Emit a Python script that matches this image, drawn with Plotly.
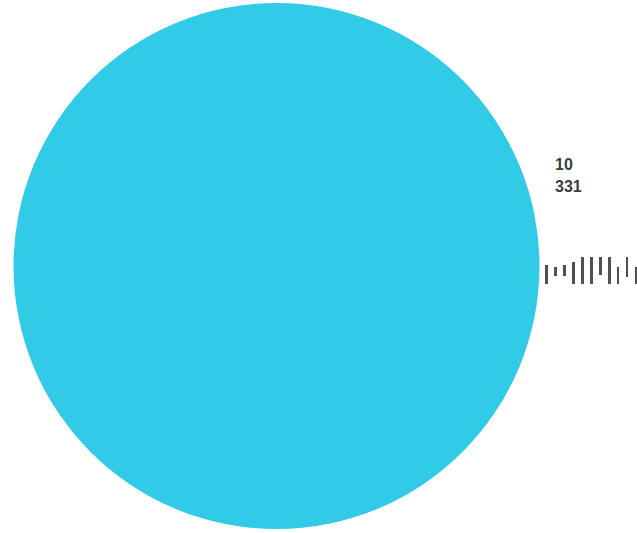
import plotly.graph_objects as go

# ---- data ----
slice_labels = ["disc"]
slice_values = [1]

tick_index = [0, 1, 2, 3, 4, 5, 6, 7, 8, 9, 10]
tick_bottom = [0, 8, 8, 0, 0, 0, 9, 0, 0, 7, 0]
tick_top = [19, 17, 19, 22, 27, 27, 27, 27, 17, 27, 17]
tick_length = [t - b for t, b in zip(tick_top, tick_bottom)]

label_lines = ["10", "331"]

W, H = 637, 533

fig = go.Figure()

fig.add_trace(go.Pie(
    labels=slice_labels,
    values=slice_values,
    marker=dict(colors=["#31CBE7"], line=dict(width=0)),
    textinfo="none",
    hoverinfo="skip",
    sort=False,
    showlegend=False,
    domain=dict(x=[11 / W, 542 / W], y=[1 - 529 / H, 1 - 3 / H]),
))

fig.add_trace(go.Bar(
    x=tick_index,
    y=tick_length,
    base=tick_bottom,
    width=0.3,
    marker=dict(color="#505050", line=dict(width=0)),
    xaxis="x2",
    yaxis="y2",
    hoverinfo="skip",
    showlegend=False,
))

label_y = [164, 186]
annotations = []
for txt, yc in zip(label_lines, label_y):
    annotations.append(dict(
        text="<b>" + txt + "</b>",
        xref="paper", yref="paper",
        x=553 / W, y=1 - yc / H,
        xanchor="left", yanchor="middle",
        showarrow=False,
        font=dict(family="Liberation Sans, Arial, sans-serif", size=16, color="#3d3d3d"),
    ))

fig.update_layout(
    width=W, height=H,
    margin=dict(l=0, r=0, t=0, b=0),
    paper_bgcolor="white",
    plot_bgcolor="rgba(0,0,0,0)",
    xaxis2=dict(domain=[540 / W, 1], range=[-0.75, 10.11], visible=False,
                anchor="y2", fixedrange=True),
    yaxis2=dict(domain=[1 - 290 / H, 1 - 250 / H], range=[-6, 34], visible=False,
                anchor="x2", fixedrange=True),
    annotations=annotations,
    bargap=0,
)

fig.write_html("out.html", config={"displayModeBar": False},
               post_script="document.body.style.margin='0px';")
